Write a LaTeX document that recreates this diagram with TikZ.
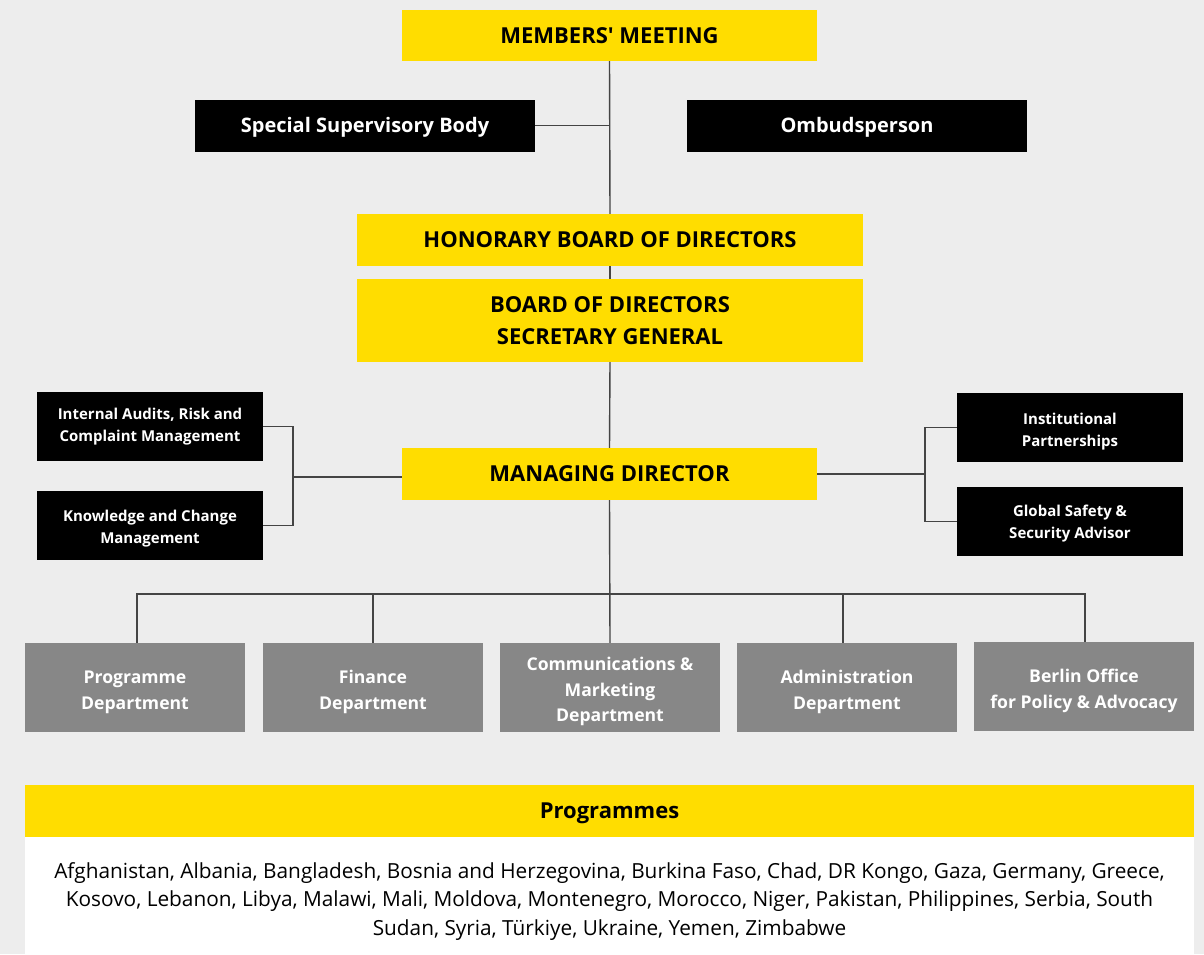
\documentclass[tikz,border=0pt]{standalone}
\usepackage{fontspec}
\setmainfont{Open Sans}
\definecolor{bgc}{HTML}{EDEDED}
\definecolor{yel}{HTML}{FFDD00}
\definecolor{dep}{HTML}{878787}
\definecolor{ln}{HTML}{444444}
\newcommand{\topstrut}[1]{\rule{0pt}{#1}}
\begin{document}
\begin{tikzpicture}[x=1pt,y=-1pt,
  box/.style={rectangle,inner sep=0pt,align=center,font=\bfseries},
  oneline/.style={text height=#1,text depth=0pt},
  ybox/.style={box,fill=yel,text=black,font=\fontsize{22}{32}\selectfont\bfseries},
  bbox/.style={box,oneline=14.3pt,fill=black,text=white,font=\fontsize{20}{24}\selectfont\bfseries,minimum width=340pt,minimum height=52pt},
  sbox/.style={box,fill=black,text=white,font=\fontsize{15}{22.5}\selectfont\bfseries,minimum width=226pt,minimum height=69pt},
  dbox/.style={box,fill=dep,text=white,font=\fontsize{17.6}{25.5}\selectfont\bfseries,minimum width=220pt,minimum height=89pt},
  conn/.style={draw=ln,line width=1.4pt}]
\fill[bgc] (0,0) rectangle (1204,954);
\useasboundingbox (0,0) rectangle (1204,954);

\node[ybox,oneline=15.7pt,minimum width=415pt,minimum height=51pt] (mm) at (609.5,35.5) {MEMBERS\textquotesingle{} MEETING};
\node[bbox] (ssb) at (365,125.5) {Special Supervisory Body};
\node[bbox] (omb) at (857,125.5) {Ombudsperson};
\node[ybox,oneline=15.7pt,minimum width=506pt,minimum height=52pt] (hb) at (610,240) {HONORARY BOARD OF DIRECTORS};
\node[ybox,minimum width=506pt,minimum height=83pt] (bd) at (610,320.5) {BOARD OF DIRECTORS\\SECRETARY GENERAL};
\node[ybox,oneline=15.7pt,minimum width=415pt,minimum height=52pt] (md) at (609.5,474) {MANAGING DIRECTOR};

\node[sbox] (ia) at (150,426.5) {Internal Audits, Risk and\\Complaint Management};
\node[sbox] (kc) at (150,525.5) {\topstrut{17.4pt}Knowledge and Change\\Management};
\node[sbox] (ip) at (1070,427.5) {\topstrut{19.4pt}Institutional\\Partnerships};
\node[sbox] (gs) at (1070,521.5) {\topstrut{15.4pt}Global Safety \&\\Security Advisor};

\node[dbox] (prog) at (135,687.5) {\topstrut{22pt}Programme\\Department};
\node[dbox] (fin) at (373,687.5) {\topstrut{22pt}Finance\\Department};
\node[dbox] (comm) at (610,687.5) {\topstrut{22pt}Communications \&\\Marketing\\Department};
\node[dbox] (adm) at (847,687.5) {\topstrut{22pt}Administration\\Department};
\node[dbox] (ber) at (1084,686.5) {\topstrut{22pt}Berlin Office\\for Policy \& Advocacy};

\node[box,oneline=15.7pt,fill=yel,minimum width=1169pt,minimum height=52pt,font=\fontsize{22}{26}\selectfont\bfseries] (ph) at (609.5,811) {Programmes};
\node[box,fill=white,minimum width=1169pt,minimum height=117pt,font=\fontsize{20.8}{28.5}\selectfont] (pl) at (609.5,895.5) {\topstrut{27.8pt}Afghanistan, Albania, Bangladesh, Bosnia and Herzegovina, Burkina Faso, Chad, DR Kongo, Gaza, Germany, Greece,\\Kosovo, Lebanon, Libya, Malawi, Mali, Moldova, Montenegro, Morocco, Niger, Pakistan, Philippines, Serbia, South\\Sudan, Syria, Türkiye, Ukraine, Yemen, Zimbabwe};

% top chain
\draw[conn] (mm.south) -- (hb.north);
\draw[conn] (hb.south) -- (bd.north);
\draw[conn] (bd.south) -- (md.north);
\draw[conn] (ssb.east) -- (ssb.east -| mm.south);

% left bracket
\coordinate (lb) at (293,477);
\draw[conn] (ia.east) -| (lb) |- (kc.east);
\draw[conn] (lb) -- (lb -| md.west);
% right bracket
\coordinate (rb) at (925,474);
\draw[conn] (ip.west) -| (rb) |- (gs.west);
\draw[conn] (rb) -- (rb -| md.east);

% departments bus
\coordinate (bus) at (610,594);
\draw[conn] (md.south) -- (comm.north);
\coordinate (p1) at (137,0);
\coordinate (p5) at (1085,0);
\coordinate (p4) at (843,0);
\draw[conn] (p1 |- prog.north) |- (bus) -| (p5 |- ber.north);
\draw[conn] (fin.north) -- (fin.north |- bus);
\draw[conn] (p4 |- adm.north) -- (p4 |- bus);
\end{tikzpicture}
\end{document}
